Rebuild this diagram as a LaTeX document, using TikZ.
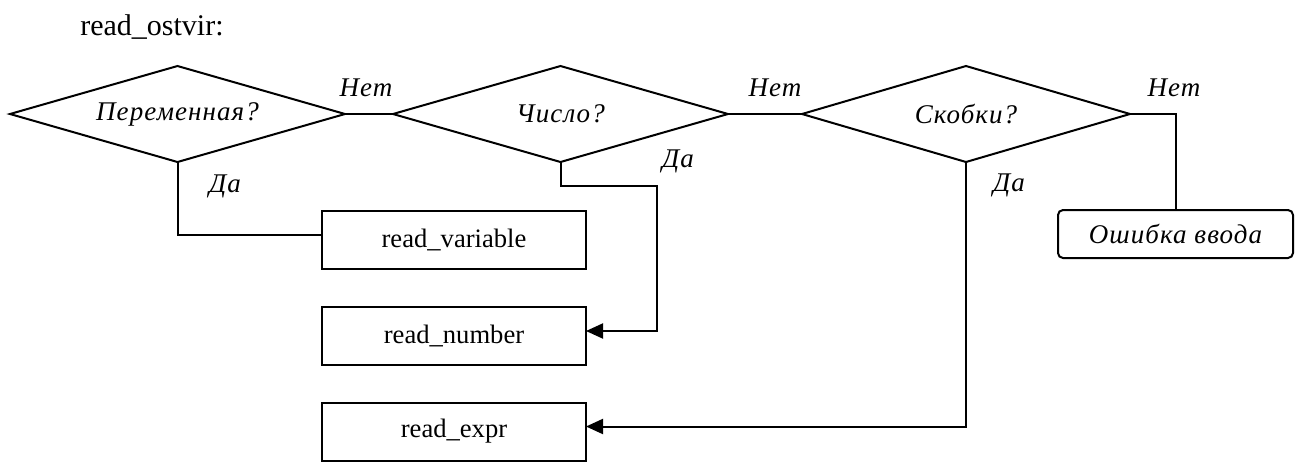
\documentclass[tikz,border=0pt]{standalone}
\usepackage{fontspec}
\setmainfont{Liberation Serif}
\usetikzlibrary{shapes.geometric,arrows.meta}
\newcommand{\itlbl}{\fontsize{13.5}{15}\selectfont\itshape\addfontfeatures{LetterSpace=4}}
\tikzset{
  decis/.style={draw, line width=1pt, shape=diamond, aspect=3.5, inner sep=0pt, outer sep=0pt, minimum height=48pt, font=\itlbl},
  proc/.style={draw, line width=1pt, rectangle, inner sep=0pt, outer sep=0pt, minimum width=132pt, minimum height=29pt, font=\fontsize{13.3}{15}\selectfont},
  errbox/.style={draw, line width=1pt, rectangle, rounded corners=2.5pt, inner sep=0pt, outer sep=0pt, minimum width=117.5pt, minimum height=24pt, font=\itlbl},
  lbl/.style={inner sep=0pt, font=\itlbl},
  conn/.style={line width=1pt},
  arr/.style={conn, -{Triangle[length=8.5pt,width=7.5pt]}}
}
\begin{document}
\begin{tikzpicture}[x=0.5pt,y=-0.5pt]
\useasboundingbox (0,0) rectangle (1314,462);
\node[inner sep=0pt, font=\fontsize{15}{17}\selectfont] (title) at (152,27) {read\_ostvir:};
\node[decis, minimum width=167.5pt] (d1) at (177.5,114) {Переменная?};
\node[decis, minimum width=167.5pt] (d2) at (560.5,114) {Число?};
\node[decis, minimum width=164pt] (d3) at (966,114) {Скобки?};
\node[proc] (rv) at (454,240) {read\_variable};
\node[proc] (rn) at (454,336) {read\_number};
\node[proc] (re) at (454,431.5) {read\_expr};
\node[errbox] (err) at (1175.5,234) {Ошибка ввода};
\node[lbl] (n1) at (366,88) {Нет};
\node[lbl] (n2) at (775,88) {Нет};
\node[lbl] (n3) at (1174,88) {Нет};
\node[lbl] (y1) at (225,186) {Да};
\node[lbl] (y2) at (678,161) {Да};
\node[lbl] (y3) at (1009,185) {Да};
\coordinate (c2) at (657,186);
\draw[conn] (d1.east) -- (d2.west);
\draw[conn] (d2.east) -- (d3.west);
\draw[conn] (d1.south) |- ([yshift=2.5pt]rv.west);
\draw[arr] (d2.south) |- (c2) |- ([yshift=2.5pt]rn.east);
\draw[arr] (d3.south) |- ([yshift=2.5pt]re.east);
\draw[conn] (d3.east) -| (err.north);
\end{tikzpicture}
\end{document}
